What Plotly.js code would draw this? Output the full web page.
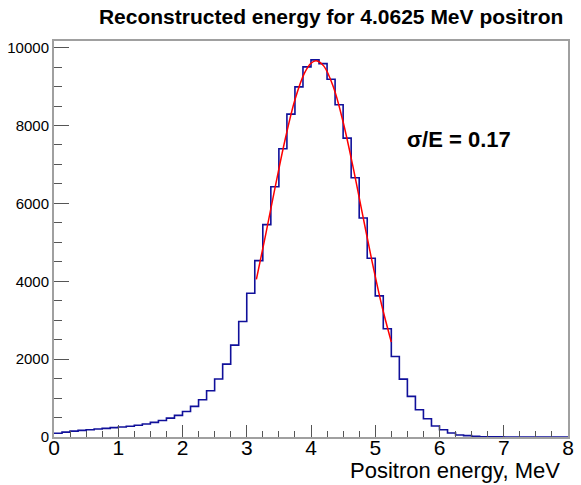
<!DOCTYPE html>
<html>
<head>
<meta charset="utf-8">
<script src="https://cdn.plot.ly/plotly-3.0.1.min.js"></script>
<style>
  html, body { margin: 0; padding: 0; background: #ffffff; }
  #chart { width: 581px; height: 485px; }
</style>
</head>
<body>
<div id="chart"></div>
<script>
// Histogram: 64 bins of 0.125 MeV from 0 to 8 MeV
const binWidth = 0.125;
const binLowEdges = Array.from({length: 64}, (_, i) => i * binWidth);
const counts = [
  95, 125, 150, 170, 188, 205, 222, 240,
  257, 275, 300, 334, 375, 425, 485, 556,
  655, 786, 958, 1189, 1488, 1872, 2359, 2966,
  3692, 4530, 5454, 6428, 7403, 8292, 8992, 9505,
  9685, 9590, 9189, 8531, 7676, 6659, 5625, 4590,
  3625, 2779, 2069, 1487, 1043, 701, 470, 282,
  188, 103, 51, 35, 18, 8, 4, 2,
  1, 0, 0, 0, 0, 0, 0, 0
];

// Fitted curve (red)
const fitX = [3.15, 3.3, 3.45, 3.6, 3.75, 3.9, 4.0, 4.08, 4.2, 4.35, 4.5, 4.65, 4.8, 4.95, 5.1, 5.25];
const fitY = [4050, 5240, 6480, 7660, 8660, 9350, 9600, 9665, 9525, 8980, 8090, 6970, 5735, 4510, 3390, 2440];

const xTicks = [0, 1, 2, 3, 4, 5, 6, 7, 8];
const xTickText = ['0', '1', '2', '3', '4', '5', '6', '7', '8'];
const yTicks = [0, 2000, 4000, 6000, 8000, 10000];
const yTickText = ['0', '2000', '4000', '6000', '8000', '10000'];

const titleText = 'Reconstructed energy for 4.0625 MeV positron';
const xTitleText = 'Positron energy, MeV';
const resText = 'σ/E = 0.17';

// step outline built from bin edges
const stepX = binLowEdges.concat([binLowEdges[binLowEdges.length - 1] + binWidth]);
const stepY = counts.concat([counts[counts.length - 1]]);

const FONT = 'Liberation Sans, Arial, Helvetica, sans-serif';

const traces = [
  {
    type: 'scatter', mode: 'lines',
    x: stepX, y: stepY,
    line: {shape: 'hv', color: '#10109a', width: 1.6},
    hoverinfo: 'skip', showlegend: false
  },
  {
    type: 'scatter', mode: 'lines',
    x: fitX, y: fitY,
    line: {shape: 'spline', color: '#ff0000', width: 1.5},
    hoverinfo: 'skip', showlegend: false
  }
];

const layout = {
  width: 581, height: 485,
  margin: {l: 54, r: 13, t: 41, b: 48, pad: 0},
  paper_bgcolor: '#ffffff', plot_bgcolor: '#ffffff',
  showlegend: false,
  font: {family: FONT, color: '#000000'},
  title: {
    text: '<b>' + titleText + '</b>',
    font: {family: FONT, size: 21, color: '#000000'},
    xref: 'container', x: 0.57, xanchor: 'center',
    yref: 'container', y: 1 - 17 / 485, yanchor: 'middle'
  },
  xaxis: {
    range: [0, 8], fixedrange: true,
    showgrid: false, zeroline: false,
    showline: true, linecolor: '#a0a0a0', linewidth: 2, mirror: true,
    ticks: 'inside', ticklen: 12, tickwidth: 1, tickcolor: '#555555',
    tickvals: xTicks, ticktext: xTickText,
    ticklabelstandoff: -9,
    tickfont: {family: FONT, size: 21, color: '#000000'},
    minor: {dtick: 0.25, ticks: 'inside', ticklen: 6, tickwidth: 1, tickcolor: '#555555', showgrid: false}
  },
  yaxis: {
    range: [0, 10170], fixedrange: true,
    showgrid: false, zeroline: false,
    showline: true, linecolor: '#a0a0a0', linewidth: 2, mirror: true,
    ticks: 'inside', ticklen: 15, tickwidth: 1, tickcolor: '#555555',
    tickvals: yTicks, ticktext: yTickText,
    tickfont: {family: FONT, size: 15, color: '#000000'},
    minor: {dtick: 500, ticks: 'inside', ticklen: 8, tickwidth: 1, tickcolor: '#555555', showgrid: false}
  },
  annotations: [
    {
      text: '<b>' + resText + '</b>',
      xref: 'x', yref: 'y', x: 6.31, y: 7630,
      xanchor: 'center', yanchor: 'middle', showarrow: false,
      font: {family: FONT, size: 22, color: '#000000'}
    },
    {
      text: xTitleText,
      xref: 'paper', yref: 'paper', x: 0.988, y: -0.1212,
      xanchor: 'right', yanchor: 'bottom', showarrow: false,
      font: {family: FONT, size: 22, color: '#000000'}
    }
  ]
};

Plotly.newPlot('chart', traces, layout, {displayModeBar: false, staticPlot: true});
</script>
</body>
</html>
